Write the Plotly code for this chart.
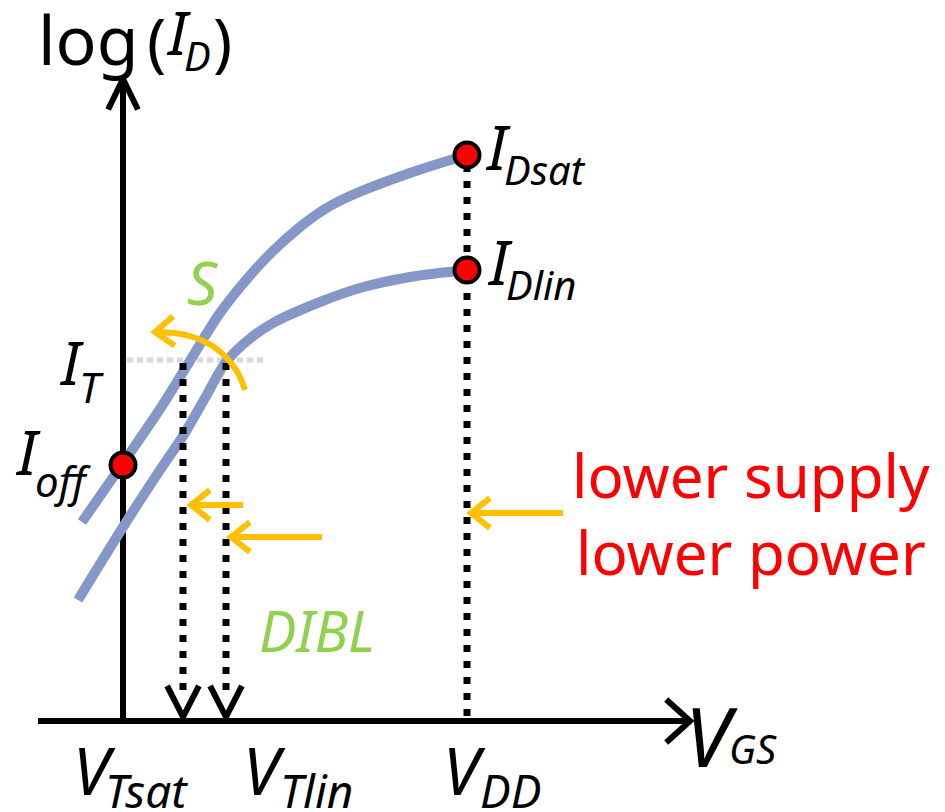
import math
import plotly.graph_objects as go

# ---------------- data (diagram units) ----------------
# saturation curve (high V_DS): V_GS position vs log(I_D) position
sat_vgs = [82, 123, 160, 188, 220, 247, 273, 300, 325, 350, 410, 467]
sat_logid = [522, 463, 409, 364, 313, 279, 251, 227, 209, 196, 173, 155]
# linear curve (low V_DS)
lin_vgs = [78, 123, 160, 183, 205, 226, 247, 273, 320, 360, 410, 467]
lin_logid = [600, 527, 470, 436, 398, 362, 341, 323, 302, 288, 277, 270]

# key points
vt_sat = 183
vt_lin = 226
vdd = 467
i_T = 360
i_off = 465
i_dsat = 155
i_dlin = 270

# axes extents
axis_origin_x = 123
axis_origin_y = 721
axis_top = 79
axis_left = 38
axis_right = 690

# ---------------- styles ----------------
CURVE = "#8497C6"
ORANGE = "#FFC000"
GREEN = "#92D050"
FONT = "Noto Sans"
PAGE_OFF = 8  # default body margin of the html page

fig = go.Figure()


def line(xs, ys, color, width, dash="solid", shape="linear", smoothing=1.0):
    fig.add_trace(go.Scatter(x=xs, y=ys, mode="lines",
                             line=dict(color=color, width=width, dash=dash, shape=shape,
                                       smoothing=smoothing),
                             hoverinfo="skip", showlegend=False))


def chevron(tx, ty, dirx, diry, length, half_deg, color, width):
    n = math.hypot(dirx, diry)
    dx, dy = dirx / n, diry / n
    pts = []
    for s in (1, -1):
        a = math.radians(half_deg) * s
        rx = dx * math.cos(a) - dy * math.sin(a)
        ry = dx * math.sin(a) + dy * math.cos(a)
        pts.append((tx - length * rx, ty - length * ry))
    line([pts[0][0], tx, pts[1][0]], [pts[0][1], ty, pts[1][1]], color, width)


# axes
line([axis_origin_x, axis_origin_x], [axis_origin_y, axis_top + 2], "black", 6)
chevron(axis_origin_x, axis_top, 0, -1, 34, 26, "black", 6)
line([axis_left, axis_right - 2], [axis_origin_y, axis_origin_y], "black", 6)
chevron(axis_right, axis_origin_y, 1, 0, 32, 42, "black", 6)

# I_T reference (light gray dotted)
line([127, 265], [i_T, i_T], "#D9D9D9", 5, dash="6px,4px")

# curves
line(sat_vgs, sat_logid, CURVE, 10, shape="spline", smoothing=1.0)
line(lin_vgs, lin_logid, CURVE, 10, shape="spline", smoothing=1.0)

# dotted drop lines with arrowheads
for vx in (vt_sat, vt_lin):
    line([vx, vx], [i_T + 3, 692], "black", 7, dash="7px,9px")
    chevron(vx, 717, 0, 1, 35, 27, "black", 6)
line([vdd, vdd], [i_dsat + 10, axis_origin_y - 3], "black", 7, dash="7px,9px")

# orange arrows
arc_x = [245, 238, 226, 211, 193, 174, 157]
arc_y = [390, 373, 357, 345, 337, 333, 332]
line(arc_x, arc_y, ORANGE, 6, shape="spline")
chevron(155, 332, -1, 0.05, 24, 38, ORANGE, 6)

line([243, 193], [505, 505], ORANGE, 6)
chevron(191, 505, -1, 0, 24, 38, ORANGE, 6)
line([322, 233], [537, 537], ORANGE, 6)
chevron(231, 537, -1, 0, 24, 38, ORANGE, 6)
line([563, 473], [513, 513], ORANGE, 6)
chevron(471, 513, -1, 0, 24, 38, ORANGE, 6)

# markers
fig.add_trace(go.Scatter(x=[axis_origin_x, vdd, vdd], y=[i_off, i_dsat, i_dlin], mode="markers",
                         marker=dict(color="#FF0000", size=25, line=dict(color="black", width=4)),
                         hoverinfo="skip", showlegend=False))

# ---------------- text ----------------
ASC, DESC = 1.069, 0.293


def label(x, baseline, text, size, color="black", italic=True, anchor="left"):
    t = f"<i>{text}</i>" if italic else text
    ycenter = baseline - (ASC - DESC) / 2 * size
    fig.add_annotation(x=x, y=ycenter, text=t, showarrow=False, xanchor=anchor, yanchor="middle",
                       font=dict(family=FONT, size=size, color=color), borderpad=0)


# y axis title
label(37, 65, "log", 68, italic=False)
label(146, 65, "(", 64, italic=False)
label(165, 55, "I", 60)
label(183, 71, "D", 40)
label(212, 65, ")", 64, italic=False)

label(58, 385, "I", 60)
label(78, 403, "T", 42)
label(14, 475, "I", 62)
label(34, 497, "off", 42)
label(484, 170, "I", 62)
label(503, 185, "Dsat", 40)
label(486, 285, "I", 62)
label(505, 300, "Dlin", 40)

label(186, 305, "S", 60, color=GREEN)
label(258, 652, "DIBL", 56, color=GREEN)

label(751, 498, "lower supply", 60, color="#FF0000", italic=False, anchor="center")
label(751, 575, "lower power", 60, color="#FF0000", italic=False, anchor="center")

label(72, 795, "V", 66)
label(104, 808, "Tsat", 46)
label(242, 795, "V", 66)
label(279, 808, "Tlin", 46)
label(442, 795, "V", 66)
label(479, 808, "DD", 46)
label(684, 767, "V", 82)
label(728, 764, "GS", 40)

fig.update_layout(
    width=945 - PAGE_OFF, height=812 - PAGE_OFF,
    margin=dict(l=0, r=0, t=0, b=0),
    paper_bgcolor="white", plot_bgcolor="white",
    xaxis=dict(range=[PAGE_OFF, 945], visible=False, fixedrange=True),
    yaxis=dict(range=[812, PAGE_OFF], visible=False, fixedrange=True),
    showlegend=False,
)

fig.write_html("out.html")
